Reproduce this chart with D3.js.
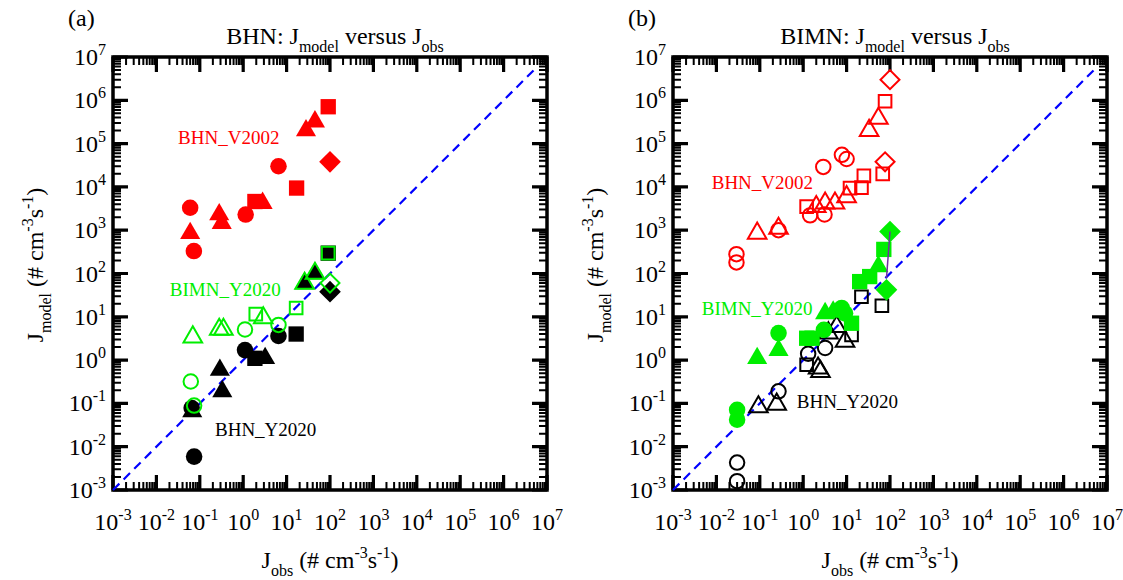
<!DOCTYPE html>
<html>
<head>
<meta charset="utf-8">
<script src="https://cdn.jsdelivr.net/npm/d3@7"></script>
<style>
  body { margin: 0; background: #fff; }
  svg { display: block; }
</style>
</head>
<body>
<svg id="chart" width="1123" height="580"></svg>
<script>
// ---------- data (J in # cm^-3 s^-1) ----------
// each point: [set, J_obs, J_model]; set 1..4 = circle, triangle, square, diamond
const majorExps = d3.range(-3, 8);
const minorFactors = d3.range(2, 10);
const oneToOne = [1e-3, 6e6];

// panel (a) BHN
const a_bhnV2002 = [
  [1, 0.06, 3300], [2, 0.06, 850], [1, 0.073, 330], [2, 0.28, 2300], [2, 0.32, 1450],
  [1, 1.14, 2300], [3, 1.86, 4600], [2, 2.8, 4200], [1, 6.5, 30000], [3, 17, 9400],
  [2, 28, 2.0e5], [2, 45, 3.2e5], [3, 91, 7.1e5], [4, 100, 38000]
];
const a_bhnY2020 = [
  [1, 0.065, 0.078], [2, 0.067, 0.065], [1, 0.074, 0.0059], [2, 0.29, 0.59], [2, 0.33, 0.19],
  [1, 1.1, 1.7], [3, 1.86, 1.1], [2, 3.2, 1.1], [1, 6.5, 3.6], [3, 16.6, 4.0],
  [3, 91, 295], [2, 26, 59], [2, 45, 100], [4, 100, 38]
];
const a_bimnY2020 = [
  [2, 0.069, 3.4], [1, 0.062, 0.32], [1, 0.074, 0.089], [2, 0.28, 5.1], [2, 0.35, 5.1],
  [1, 1.1, 5.1], [3, 1.95, 11.5], [2, 2.9, 9.4], [1, 6.5, 6.5], [3, 16.6, 16],
  [3, 91, 295], [2, 26, 59], [2, 45, 100], [4, 100, 60]
];

// panel (b) BIMN
const b_bhnV2002 = [
  [1, 0.029, 280], [1, 0.029, 180], [2, 0.087, 850], [1, 0.27, 1000], [2, 0.27, 1100],
  [3, 1.2, 3500], [1, 1.44, 2200], [2, 2.0, 3500], [2, 3.2, 4200], [1, 3.1, 2300],
  [2, 5.4, 4200], [2, 10, 5900], [3, 12, 9400], [3, 22, 9600], [3, 25, 18000],
  [1, 2.9, 29000], [1, 7.8, 55000], [1, 10, 44000], [3, 68, 20000], [4, 77, 38000],
  [2, 33, 2.0e5], [2, 54, 3.8e5], [3, 77, 9.5e5], [4, 100, 3.0e6]
];
const b_bhnY2020 = [
  [1, 0.03, 0.0043], [1, 0.03, 0.0016], [2, 0.093, 0.083], [1, 0.27, 0.19], [2, 0.245, 0.095],
  [3, 1.2, 0.78], [2, 2.2, 0.65], [2, 2.5, 0.54], [1, 1.3, 1.4], [1, 3.2, 1.9],
  [2, 3.8, 4.2], [2, 5.9, 5.9], [2, 9.2, 2.7], [3, 13, 3.8], [3, 22, 29], [3, 65, 18]
];
const b_bimnY2020 = [
  [1, 0.03, 0.071], [1, 0.03, 0.042], [2, 0.087, 1.1], [1, 0.27, 4.2], [2, 0.27, 1.7],
  [3, 1.2, 3.2], [3, 1.6, 3.2], [1, 3.0, 5.0], [2, 3.2, 12], [2, 4.9, 13],
  [1, 7.7, 16], [1, 9.2, 12], [3, 13, 7.1], [3, 20, 65], [3, 34, 85],
  [2, 54, 145], [3, 72, 360], [4, 100, 930], [4, 83, 42]
];
const b_bimnLink = [[100, 930], [83, 78]];

// ---------- style ----------
const RED = "#ff0000", GREEN = "#00ee00", BLACK = "#000000", BLUE = "#0000ff";
const FONT = "'Liberation Serif', 'DejaVu Serif', serif";
const symType = { 1: d3.symbolCircle, 2: d3.symbolTriangle, 3: d3.symbolSquare, 4: d3.symbolSquare };
const filledSize = { 1: 215, 2: 175, 3: 235, 4: 235 };
const openSize = { 1: 165, 2: 150, 3: 160, 4: 180 };

const panels = [
  {
    tag: "(a)", name: "BHN", dx: 0,
    series: [
      { data: a_bhnY2020, color: BLACK, filled: true },
      { data: a_bimnY2020, color: GREEN, filled: false },
      { data: a_bhnV2002, color: RED, filled: true }
    ],
    labels: [
      { text: "BHN_V2002", color: RED, at: [0.0316, 1e5] },
      { text: "BIMN_Y2020", color: GREEN, at: [0.0204, 30] },
      { text: "BHN_Y2020", color: BLACK, at: [0.224, 0.0178] }
    ]
  },
  {
    tag: "(b)", name: "BIMN", dx: 560,
    series: [
      { data: b_bhnV2002, color: RED, filled: false },
      { data: b_bhnY2020, color: BLACK, filled: false },
      { data: b_bimnY2020, color: GREEN, filled: true }
    ],
    link: b_bimnLink,
    labels: [
      { text: "BHN_V2002", color: RED, at: [0.0078, 8900] },
      { text: "BIMN_Y2020", color: GREEN, at: [0.0046, 11] },
      { text: "BHN_Y2020", color: BLACK, at: [0.71, 0.078] }
    ]
  }
];

const svg = d3.select("#chart");
const box = { left: 113, right: 547, top: 57, bottom: 490 };

// text with sub/superscripts
function rich(sel, parts, size, small) {
  let shift = 0;
  sel.style("font-family", FONT);
  parts.forEach((p) => {
    const target = p.sub ? 8 : p.sup ? -10 : 0;
    sel.append("tspan")
      .attr("dy", target - shift)
      .attr("font-size", p.sub || p.sup ? small : size)
      .text(p.t);
    shift = target;
  });
}

panels.forEach((p) => {
  const g = svg.append("g").attr("transform", `translate(${p.dx},0)`);
  const x = d3.scaleLog().domain([1e-3, 1e7]).range([box.left, box.right]);
  const y = d3.scaleLog().domain([1e-3, 1e7]).range([box.bottom, box.top]);

  const majors = majorExps.map((e) => Math.pow(10, e));
  const minors = majorExps.slice(0, -1).flatMap((e) => minorFactors.map((k) => k * Math.pow(10, e)));

  // inward ticks on all four sides, one path per tick kind
  [[majors, 15, 3.2], [minors, 8, 2]].forEach(([vals, len, w]) => {
    const path = d3.path();
    vals.forEach((v) => {
      const px = x(v), py = y(v);
      path.moveTo(px, box.bottom); path.lineTo(px, box.bottom - len);
      path.moveTo(px, box.top); path.lineTo(px, box.top + len);
      path.moveTo(box.left, py); path.lineTo(box.left + len, py);
      path.moveTo(box.right, py); path.lineTo(box.right - len, py);
    });
    g.append("path").attr("d", path.toString())
      .style("stroke", "#000").style("stroke-width", w + "px").style("fill", "none");
  });

  // frame
  g.append("rect")
    .attr("x", box.left).attr("y", box.top)
    .attr("width", box.right - box.left).attr("height", box.bottom - box.top)
    .attr("fill", "none").attr("stroke", "#000").attr("stroke-width", 3.5);

  // tick labels
  majorExps.forEach((e) => {
    const v = Math.pow(10, e);
    const xt = g.append("text").attr("x", x(v)).attr("y", 530)
      .attr("text-anchor", "middle").attr("fill", "#000");
    rich(xt, [{ t: "10" }, { t: String(e), sup: true }], 24, 16);
    const yt = g.append("text").attr("x", box.left - 7).attr("y", y(v) + 8)
      .attr("text-anchor", "end").attr("fill", "#000");
    rich(yt, [{ t: "10" }, { t: String(e), sup: true }], 24, 16);
  });

  // 1:1 line
  g.append("line")
    .attr("x1", x(oneToOne[0])).attr("y1", y(oneToOne[0]))
    .attr("x2", x(oneToOne[1])).attr("y2", y(oneToOne[1]))
    .attr("stroke", BLUE).attr("stroke-width", 2.2).attr("stroke-dasharray", "9,6");

  // markers
  p.series.forEach((s) => {
    g.append("g").selectAll("path")
      .data(s.data)
      .join("path")
      .attr("d", (d) => d3.symbol().type(symType[d[0]]).size((s.filled ? filledSize : openSize)[d[0]])())
      .attr("transform", (d) => `translate(${x(d[1])},${y(d[2])})` + (d[0] === 4 ? " rotate(45)" : ""))
      .attr("fill", s.filled ? s.color : "none")
      .attr("stroke", s.filled ? "none" : s.color)
      .attr("stroke-width", s.filled ? 0 : 2);
  });

  if (p.link) {
    g.append("path")
      .datum(p.link)
      .attr("d", d3.line().x((d) => x(d[0])).y((d) => y(d[1])))
      .attr("stroke", "#7030a0").attr("stroke-width", 1.5).attr("fill", "none");
  }

  // series labels
  p.labels.forEach((l) => {
    g.append("text").attr("x", x(l.at[0])).attr("y", y(l.at[1]))
      .style("font-family", FONT).attr("font-size", 19).attr("fill", l.color).text(l.text);
  });

  // panel tag and title
  g.append("text").attr("x", 68).attr("y", 26).style("font-family", FONT)
    .attr("font-size", 24).attr("fill", "#000").text(p.tag);
  const title = g.append("text").attr("x", (box.left + box.right) / 2 + 5).attr("y", 44)
    .attr("text-anchor", "middle").attr("fill", "#000");
  rich(title, [{ t: p.name + ": J" }, { t: "model", sub: true }, { t: " versus J" }, { t: "obs", sub: true }], 24, 16);

  // axis titles
  const xt = g.append("text").attr("x", (box.left + box.right) / 2).attr("y", 568)
    .attr("text-anchor", "middle").attr("fill", "#000");
  rich(xt, [{ t: "J" }, { t: "obs", sub: true }, { t: " (# cm" }, { t: "-3", sup: true },
    { t: "s" }, { t: "-1", sup: true }, { t: ")" }], 24, 16);
  const yt = g.append("text").attr("transform", `translate(43,265) rotate(-90)`)
    .attr("text-anchor", "middle").attr("fill", "#000");
  rich(yt, [{ t: "J" }, { t: "model", sub: true }, { t: " (# cm" }, { t: "-3", sup: true },
    { t: "s" }, { t: "-1", sup: true }, { t: ")" }], 24, 16);
});
</script>
</body>
</html>
